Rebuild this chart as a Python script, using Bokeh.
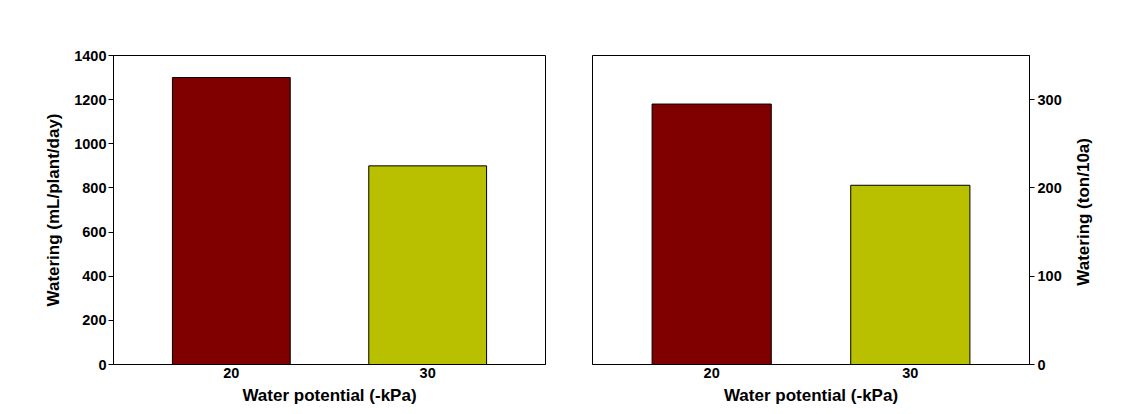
import math
from bokeh.plotting import figure
from bokeh.layouts import row
from bokeh.models import Range1d, FixedTicker, ColumnDataSource, Label
from bokeh.embed import file_html
from bokeh.resources import INLINE

potential = [20, 30]
watering_ml = [1300, 900]
watering_ton = [295, 203]
colors = ["#800000", "#B9C000"]
left_ticks = [0, 200, 400, 600, 800, 1000, 1200, 1400]
right_ticks = [0, 100, 200, 300]

FONT = "Liberation Sans"


def style(p):
    p.outline_line_color = "black"
    p.outline_line_width = 1
    p.outline_line_alpha = 1
    p.xgrid.visible = False
    p.ygrid.visible = False
    p.background_fill_color = "white"
    p.border_fill_color = "white"
    for ax in p.axis:
        ax.major_label_text_font = FONT
        ax.major_label_text_font_style = "bold"
        ax.major_label_text_font_size = "14.5px"
        ax.major_label_text_color = "black"
        ax.axis_label_text_font = FONT
        ax.axis_label_text_font_style = "bold"
        ax.axis_label_text_font_size = "17px"
        ax.axis_label_text_color = "black"
        ax.minor_tick_line_color = None
        ax.axis_line_color = "black"
        ax.major_tick_line_color = "black"
    p.xaxis.major_tick_line_color = None
    p.xaxis.major_tick_out = 0
    p.xaxis.major_tick_in = 0
    p.xaxis.major_label_standoff = 3
    p.xaxis.axis_label_standoff = 5
    p.xaxis.ticker = FixedTicker(ticks=potential)
    p.xaxis.axis_label = "Water potential (-kPa)"
    p.yaxis.major_tick_out = 5
    p.yaxis.major_tick_in = 0


src1 = ColumnDataSource(dict(x=potential, top=watering_ml, color=colors))
p1 = figure(frame_width=432, frame_height=309, output_backend="svg",
            toolbar_location=None, x_range=Range1d(14, 36), y_range=Range1d(0, 1400),
            min_border_left=113, min_border_right=23, min_border_top=55, min_border_bottom=50)
p1.vbar(x="x", top="top", width=6, bottom=0, fill_color="color", line_color="black",
        line_width=1, source=src1)
style(p1)
p1.yaxis.ticker = FixedTicker(ticks=left_ticks)
p1.yaxis.axis_label = "Watering (mL/plant/day)"
p1.yaxis.major_label_standoff = 2
p1.yaxis.axis_label_standoff = 8

src2 = ColumnDataSource(dict(x=potential, top=watering_ton, color=colors))
p2 = figure(frame_width=437, frame_height=309, output_backend="svg",
            toolbar_location=None, x_range=Range1d(14, 36), y_range=Range1d(0, 350),
            y_axis_location="right",
            min_border_left=24, min_border_right=40, min_border_top=55, min_border_bottom=50)
p2.vbar(x="x", top="top", width=6, bottom=0, fill_color="color", line_color="black",
        line_width=1, source=src2)
style(p2)
p2.yaxis.ticker = FixedTicker(ticks=right_ticks)
p2.yaxis.major_label_standoff = 3

# strip holding the right-hand axis title (reads bottom-to-top)
p3 = figure(width=77, height=414, output_backend="svg", toolbar_location=None,
            x_range=Range1d(0, 77), y_range=Range1d(0, 414),
            x_axis_location=None, y_axis_location=None,
            min_border_left=0, min_border_right=0, min_border_top=0, min_border_bottom=0)
p3.outline_line_color = None
p3.xgrid.visible = False
p3.ygrid.visible = False
p3.add_layout(Label(x=14, y=204.5, text="Watering (ton/10a)", angle=math.pi / 2,
                    text_align="center", text_baseline="middle", text_font=FONT,
                    text_font_style="bold", text_font_size="17px", text_color="black"))

layout = row(p1, p2, p3)
open("out.html", "w").write(file_html(layout, INLINE))
